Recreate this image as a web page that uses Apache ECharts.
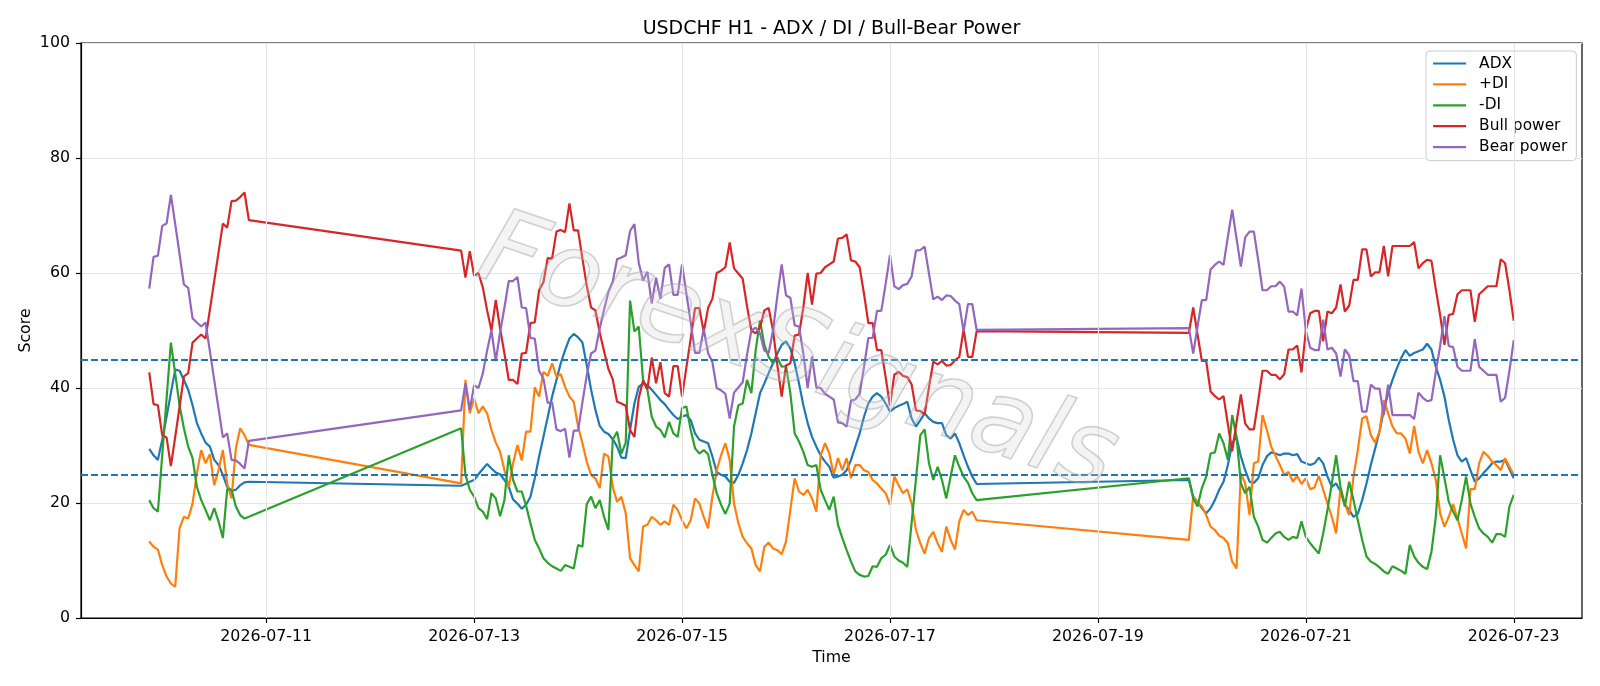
<!DOCTYPE html>
<html>
<head>
<meta charset="utf-8">
<title>USDCHF H1 - ADX / DI / Bull-Bear Power</title>
<script src="https://cdn.jsdelivr.net/npm/echarts@6.0.0/dist/echarts.min.js"></script>
<style>
  html, body { margin: 0; padding: 0; background: #fff; }
  #chart { width: 1600px; height: 686px; }
</style>
</head>
<body>
<div id="chart"></div>
<script>
// hourly bars, three trading sessions (weekend gaps in between)
const sessions = [
  { start: '2026-07-09T21:00:00Z', bars: 24 },
  { start: '2026-07-12T21:00:00Z', bars: 120 },
  { start: '2026-07-19T21:00:00Z', bars: 76 }
];

const dateTicks = ['2026-07-11', '2026-07-13', '2026-07-15', '2026-07-17', '2026-07-19', '2026-07-21', '2026-07-23'];
const thresholds = [45, 25];

const adx = [
  29.4, 28.3, 27.5, 31.0, 35.0, 39.1, 43.2, 43.0, 41.4, 39.7, 37.0, 33.9, 32.1, 30.5, 29.8, 27.5, 26.6, 24.9, 22.8, 22.1, 22.3, 23.1, 23.6, 23.7,

  23.0, 23.3, 23.7, 24.0, 25.0, 25.9, 26.8, 26.0, 25.3, 25.0,
  24.0, 22.8, 20.6, 19.9, 19.0, 19.7, 21.1, 24.3, 28.1, 31.5,
  35.0, 38.5, 41.4, 44.3, 46.6, 48.6, 49.4, 48.8, 47.9, 44.0,
  39.7, 36.2, 33.4, 32.4, 32.0, 31.1, 29.8, 27.9, 27.8, 32.7,
  37.3, 40.2, 40.8, 40.5, 39.7, 38.8, 37.9, 37.2, 36.2, 35.3,
  34.6, 35.0, 35.3, 34.4, 32.1, 31.0, 30.7, 30.4, 28.1, 25.4,
  24.9, 24.6, 23.7, 23.5, 24.9, 26.9, 29.2, 32.1, 35.6, 39.1,
  40.8, 42.6, 44.3, 46.0, 47.5, 48.1, 46.9, 44.3, 40.8, 37.0,
  33.9, 31.5, 29.8, 28.3, 27.2, 26.3, 24.4, 24.6, 24.9, 25.7,
  27.5, 29.8, 32.1, 35.0, 37.3, 38.5, 39.1, 38.5, 37.3, 35.9,
  36.5, 36.9, 37.2, 37.6, 34.7, 33.3, 34.4, 35.6, 34.7, 34.1,
  33.9, 33.9, 31.8, 31.2, 32.1, 30.4, 28.3, 26.3, 24.6, 23.3,

  24.0, 21.1, 20.2, 19.1, 18.2, 19.1, 20.5, 22.3, 23.7, 26.6,
  30.4, 31.5, 28.1, 25.7, 23.7, 23.5, 24.3, 26.6, 28.1, 28.8,
  28.6, 28.3, 28.6, 28.6, 28.3, 28.5, 27.2, 26.9, 26.6, 26.9,
  27.9, 26.9, 24.6, 22.8, 23.4, 22.0, 19.7, 18.8, 17.6, 18.1,
  20.5, 23.4, 26.6, 29.5, 32.4, 36.2, 39.1, 41.4, 43.4, 45.2,
  46.6, 45.6, 46.1, 46.4, 46.7, 47.7, 46.7, 43.7, 41.4, 38.5,
  34.4, 31.0, 28.3, 27.2, 27.8, 25.7, 23.7, 24.3, 25.2, 26.0,
  26.9, 27.2, 27.2, 27.5, 25.9, 24.3
];

const plusDi = [
  13.3, 12.4, 11.9, 9.2, 7.2, 6.0, 5.4, 15.6, 17.6, 17.3, 19.9, 25.2, 29.2, 26.9, 28.5, 23.1, 25.7, 29.2, 23.4, 20.8, 29.5, 33.0, 31.8, 30.1,

  23.4, 41.4, 35.6, 38.2, 35.6, 36.8, 35.6, 32.7, 30.5, 28.9,
  25.7, 22.8, 26.9, 30.1, 27.4, 32.4, 32.4, 40.1, 38.5, 42.8,
  42.1, 44.3, 42.0, 42.4, 40.2, 38.5, 37.6, 33.3, 30.4, 27.2,
  24.9, 24.3, 22.6, 28.6, 28.1, 22.8, 20.2, 21.1, 18.2, 10.4,
  9.2, 8.1, 15.9, 16.2, 17.6, 17.0, 16.2, 16.8, 16.2, 19.7,
  18.8, 17.0, 15.6, 17.0, 20.8, 19.9, 17.6, 15.6, 21.1, 25.7,
  28.3, 30.4, 27.5, 19.9, 16.5, 14.1, 13.0, 12.1, 9.2, 8.1,
  12.4, 13.1, 12.1, 11.8, 11.1, 13.3, 18.8, 24.3, 22.0, 21.4,
  22.3, 20.8, 18.5, 28.3, 30.4, 28.6, 24.9, 27.8, 25.7, 27.8,
  24.3, 26.6, 26.6, 25.7, 25.4, 24.0, 23.4, 22.5, 21.7, 19.7,
  24.6, 23.1, 21.7, 22.4, 19.9, 15.3, 13.0, 11.2, 13.9, 15.0,
  13.0, 11.5, 15.9, 13.6, 11.9, 16.8, 18.8, 17.9, 18.5, 17.0,

  13.6, 21.1, 20.2, 19.4, 17.9, 15.9, 15.3, 14.3, 13.9, 13.0,
  9.8, 8.6, 25.2, 23.4, 17.9, 26.9, 27.2, 35.3, 32.7, 29.8,
  28.2, 26.6, 24.9, 25.4, 23.7, 24.7, 23.3, 24.3, 22.4, 22.7,
  24.7, 22.3, 19.9, 17.6, 14.7, 22.6, 19.9, 17.9, 24.6, 29.2,
  34.7, 35.1, 31.8, 30.5, 32.4, 37.9, 35.6, 33.3, 32.1, 32.1,
  31.2, 28.6, 33.4, 28.9, 26.9, 29.2, 26.9, 24.0, 18.2, 15.9,
  17.6, 19.8, 17.3, 14.7, 12.1, 22.4, 22.4, 26.9, 28.9, 28.2,
  27.2, 26.6, 25.7, 27.8, 26.3, 24.9
];

const minusDi = [
  20.5, 19.1, 18.5, 28.3, 38.1, 47.9, 42.5, 37.0, 33.0, 29.8, 27.8, 22.8, 20.5, 18.8, 17.0, 19.1, 16.8, 13.9, 22.4, 22.3, 19.4, 17.9, 17.3, 17.6,

  33.0, 24.9, 22.3, 21.1, 19.1, 18.5, 17.2, 21.7, 20.8, 17.7,
  20.5, 28.3, 24.0, 22.0, 22.0, 19.5, 16.5, 13.6, 12.1, 10.4,
  9.6, 9.0, 8.6, 8.2, 9.2, 8.9, 8.6, 12.7, 12.4, 19.8,
  21.1, 19.1, 20.5, 17.6, 15.3, 31.0, 32.4, 28.6, 30.5, 55.2,
  49.8, 50.7, 41.4, 39.7, 35.0, 33.3, 32.7, 31.4, 34.1, 32.1,
  31.5, 36.5, 36.8, 32.7, 29.5, 28.6, 29.2, 28.5, 24.9, 21.7,
  19.7, 18.1, 19.9, 33.3, 37.0, 37.3, 41.4, 39.1, 46.6, 51.7,
  47.5, 45.4, 44.3, 45.3, 43.7, 43.8, 39.1, 32.1, 30.7, 28.9,
  26.6, 26.3, 26.6, 22.3, 20.5, 18.8, 21.1, 16.2, 13.9, 11.8,
  9.8, 8.1, 7.5, 7.2, 7.3, 9.0, 8.9, 10.4, 11.0, 12.7,
  10.7, 10.0, 9.6, 8.9, 16.6, 24.2, 31.8, 32.8, 26.9, 24.0,
  26.3, 24.0, 20.8, 24.6, 28.3, 26.3, 24.6, 23.5, 21.7, 20.5,

  24.3, 20.8, 19.4, 22.6, 24.6, 28.6, 28.8, 32.1, 30.4, 27.5,
  35.3, 31.5, 23.4, 21.7, 22.8, 17.6, 15.9, 13.6, 13.1, 13.9,
  14.7, 15.0, 14.1, 13.6, 14.1, 13.9, 16.8, 14.1, 13.0, 12.1,
  11.2, 14.7, 18.8, 23.4, 28.3, 22.8, 19.4, 23.7, 20.5, 17.0,
  13.6, 10.7, 9.8, 9.4, 8.8, 8.1, 7.7, 9.0, 8.6, 8.2,
  7.7, 12.7, 10.7, 9.6, 8.9, 8.5, 11.5, 17.6, 28.3, 24.3,
  20.2, 18.5, 17.0, 20.5, 24.6, 19.9, 17.6, 15.6, 14.7, 14.1,
  13.1, 14.6, 14.6, 14.1, 19.4, 21.4
];

const bullPower = [
  42.7, 37.2, 37.0, 31.8, 31.4, 26.4, 31.5, 36.7, 42.0, 42.6, 47.9, 48.6, 49.3, 48.6, 53.6, 58.6, 63.6, 68.6, 67.9, 72.5, 72.6, 73.2, 74.0, 69.2,

  63.9, 59.2, 63.8, 59.5, 60.0, 57.5, 53.5, 50.0, 55.3, 50.3,
  46.0, 41.4, 41.4, 40.7, 46.0, 46.1, 51.3, 51.4, 57.0, 58.4,
  62.6, 62.5, 67.2, 67.5, 67.1, 72.1, 67.4, 67.4, 62.5, 57.8,
  54.0, 53.5, 49.6, 46.4, 43.3, 41.5, 37.6, 37.3, 36.9, 32.7,
  31.5, 38.2, 41.3, 39.8, 45.3, 40.8, 44.5, 39.1, 38.5, 43.8,
  43.8, 38.5, 43.6, 48.6, 53.9, 53.9, 49.7, 53.9, 55.5, 60.0,
  60.4, 61.0, 65.3, 60.8, 59.9, 59.0, 54.2, 50.0, 49.5, 50.5,
  53.5, 53.9, 50.0, 44.0, 38.5, 43.9, 44.3, 49.1, 49.3, 54.0,
  60.0, 54.5, 59.9, 60.0, 61.0, 61.5, 62.0, 66.0, 66.1, 66.7,
  62.2, 62.0, 61.0, 56.4, 51.3, 51.3, 46.6, 46.6, 41.9, 36.9,
  42.3, 42.8, 42.1, 41.9, 40.6, 36.1, 36.0, 35.4, 40.1, 44.6,
  44.1, 44.7, 43.9, 44.0, 44.8, 45.4, 50.2, 45.4, 45.4, 49.9,

  49.6, 54.0, 49.3, 44.7, 44.7, 39.4, 38.6, 38.0, 38.6, 33.7,
  29.0, 34.0, 38.9, 33.8, 32.8, 32.8, 37.7, 43.0, 43.0, 42.3,
  42.3, 41.5, 42.4, 46.7, 46.7, 47.4, 42.7, 50.0, 53.0, 53.4,
  53.4, 48.1, 53.3, 53.0, 54.0, 58.0, 53.3, 54.3, 58.8, 58.8,
  64.1, 64.1, 59.4, 60.1, 60.1, 64.7, 59.4, 64.7, 64.7, 64.7,
  64.7, 64.7, 65.4, 60.8, 61.7, 62.3, 62.1, 57.2, 52.7, 47.5,
  52.7, 52.9, 56.3, 57.0, 57.0, 57.0, 51.5, 56.3, 57.0, 57.7,
  57.7, 57.7, 62.4, 61.7, 57.0, 51.7
];

const bearPower = [
  57.3, 62.8, 63.0, 68.2, 68.6, 73.6, 68.5, 63.3, 58.0, 57.4, 52.1, 51.4, 50.7, 51.4, 46.4, 41.4, 36.4, 31.4, 32.1, 27.5, 27.4, 26.8, 26.0, 30.8,

  36.1, 40.8, 36.2, 40.5, 40.0, 42.5, 46.5, 50.0, 44.7, 49.7,
  54.0, 58.6, 58.6, 59.3, 54.0, 53.9, 48.7, 48.6, 43.0, 41.6,
  37.4, 37.5, 32.8, 32.5, 32.9, 27.9, 32.6, 32.6, 37.5, 42.2,
  46.0, 46.5, 50.4, 53.6, 56.7, 58.5, 62.4, 62.7, 63.1, 67.3,
  68.5, 61.8, 58.7, 60.2, 54.7, 59.2, 55.5, 60.9, 61.5, 56.2,
  56.2, 61.5, 56.4, 51.4, 46.1, 46.1, 50.3, 46.1, 44.5, 40.0,
  39.6, 39.0, 34.7, 39.2, 40.1, 41.0, 45.8, 50.0, 50.5, 49.5,
  46.5, 46.1, 50.0, 56.0, 61.5, 56.1, 55.7, 50.9, 50.7, 46.0,
  40.0, 45.5, 40.1, 40.0, 39.0, 38.5, 38.0, 34.0, 33.9, 33.3,
  37.8, 38.0, 39.0, 43.6, 48.7, 48.7, 53.4, 53.4, 58.1, 63.1,
  57.7, 57.2, 57.9, 58.1, 59.4, 63.9, 64.0, 64.6, 59.9, 55.4,
  55.9, 55.3, 56.1, 56.0, 55.2, 54.6, 49.8, 54.6, 54.6, 50.1,

  50.4, 46.0, 50.7, 55.3, 55.3, 60.6, 61.4, 62.0, 61.4, 66.3,
  71.0, 66.0, 61.1, 66.2, 67.2, 67.2, 62.3, 57.0, 57.0, 57.7,
  57.7, 58.5, 57.6, 53.3, 53.3, 52.6, 57.3, 50.0, 47.0, 46.6,
  46.6, 51.9, 46.7, 47.0, 46.0, 42.0, 46.7, 45.7, 41.2, 41.2,
  35.9, 35.9, 40.6, 39.9, 39.9, 35.3, 40.6, 35.3, 35.3, 35.3,
  35.3, 35.3, 34.6, 39.2, 38.3, 37.7, 37.9, 42.8, 47.3, 52.5,
  47.3, 47.1, 43.7, 43.0, 43.0, 43.0, 48.5, 43.7, 43.0, 42.3,
  42.3, 42.3, 37.6, 38.3, 43.0, 48.3
];

const HOUR = 3600 * 1000;
const times = [];
sessions.forEach(s => {
  const t0 = Date.parse(s.start);
  for (let k = 0; k < s.bars; k++) times.push(t0 + k * HOUR);
});
const pairs = vals => vals.map((v, k) => [times[k], v]);

// matplotlib style 5% x margins
const tFirst = times[0];
const tLast = times[times.length - 1];
const pad = (tLast - tFirst) * 0.05;
const tickValues = dateTicks.map(d => Date.parse(d + 'T00:00:00Z'));
const fmtDate = v => new Date(v).toISOString().slice(0, 10);

const FONT = 'DejaVu Sans';
const gridColor = '#e6e6e6';

function lineSeries(name, color, vals) {
  return {
    name: name,
    type: 'line',
    data: pairs(vals),
    symbol: 'none',
    showSymbol: false,
    lineStyle: { color: color, width: 2.2 },
    itemStyle: { color: color },
    z: 3,
    animation: false
  };
}

const chart = echarts.init(document.getElementById('chart'), null, { width: 1600, height: 686 });

chart.setOption({
  backgroundColor: '#ffffff',
  animation: false,
  textStyle: { fontFamily: FONT },
  grid: {
    left: 81, right: 18, top: 43, bottom: 68,
    show: true, borderColor: '#000', borderWidth: 1.2, backgroundColor: 'transparent'
  },
  legend: {
    data: ['ADX', '+DI', '-DI', 'Bull power', 'Bear power'],
    orient: 'vertical',
    left: 1426,
    top: 51,
    itemWidth: 33,
    itemHeight: 16,
    itemGap: 5.9,
    padding: [5, 9, 6, 6],
    backgroundColor: 'rgba(255,255,255,0.85)',
    borderColor: '#cccccc',
    borderWidth: 1,
    borderRadius: 4,
    itemStyle: { opacity: 0 },
    lineStyle: { width: 2.2 },
    textStyle: { fontSize: 15.4, color: '#000', fontFamily: FONT, padding: [0, 0, 0, 8] }
  },
  xAxis: {
    type: 'value',
    min: tFirst - pad,
    max: tLast + pad,
    axisLine: { show: true, lineStyle: { color: '#000', width: 1.2 } },
    axisTick: { show: true, length: 5, customValues: tickValues, lineStyle: { color: '#000', width: 1.2 } },
    axisLabel: { customValues: tickValues, formatter: fmtDate, fontSize: 15.8, color: '#000', margin: 11, fontFamily: FONT },
    splitLine: { show: false }
  },
  yAxis: {
    type: 'value',
    min: 0,
    max: 100,
    interval: 20,
    axisLine: { show: true, lineStyle: { color: '#000', width: 1.2 } },
    axisTick: { show: true, length: 5, lineStyle: { color: '#000', width: 1.2 } },
    axisLabel: { fontSize: 15.8, color: '#000', margin: 11, fontFamily: FONT },
    splitLine: { show: true, lineStyle: { color: gridColor, width: 1.2 } }
  },
  graphic: [
    {
      type: 'text', x: 831.5, y: 29, z: 10,
      style: { text: 'USDCHF H1 - ADX / DI / Bull-Bear Power', fontSize: 19, fontFamily: FONT, fill: '#000', align: 'center', verticalAlign: 'middle' }
    },
    {
      type: 'text', x: 831.5, y: 658, z: 10,
      style: { text: 'Time', fontSize: 15.8, fontFamily: FONT, fill: '#000', align: 'center', verticalAlign: 'middle' }
    },
    {
      type: 'text', x: 26, y: 330.5, rotation: Math.PI / 2, z: 10,
      style: { text: 'Score', fontSize: 15.8, fontFamily: FONT, fill: '#000', align: 'center', verticalAlign: 'middle' }
    },
    {
      // faint watermark across the plot
      type: 'text', x: 797, y: 357, rotation: -0.33, z: 100,
      style: {
        text: 'ForexSignals', fontSize: 104, fontStyle: 'italic', fontWeight: 'lighter', fontFamily: FONT,
        fill: 'rgba(210,210,210,0.25)', stroke: 'rgba(150,150,150,0.45)', lineWidth: 1.6,
        align: 'center', verticalAlign: 'middle'
      }
    }
  ],
  series: [
    {
      name: 'vgrid', type: 'line', data: [], silent: true, z: 1,
      markLine: {
        silent: true, symbol: 'none', animation: false,
        label: { show: false },
        lineStyle: { color: gridColor, width: 1.2, type: 'solid' },
        data: tickValues.map(t => ({ xAxis: t }))
      }
    },
    lineSeries('ADX', '#1f77b4', adx),
    lineSeries('+DI', '#ff7f0e', plusDi),
    lineSeries('-DI', '#2ca02c', minusDi),
    lineSeries('Bull power', '#d62728', bullPower),
    lineSeries('Bear power', '#9467bd', bearPower),
    {
      name: 'levels', type: 'line', data: [], silent: true, z: 4,
      markLine: {
        silent: true, symbol: 'none', animation: false,
        label: { show: false },
        lineStyle: { color: '#1f77b4', width: 1.8, type: [7, 3] },
        data: thresholds.map(v => ({ yAxis: v }))
      }
    }
  ]
});
</script>
</body>
</html>
